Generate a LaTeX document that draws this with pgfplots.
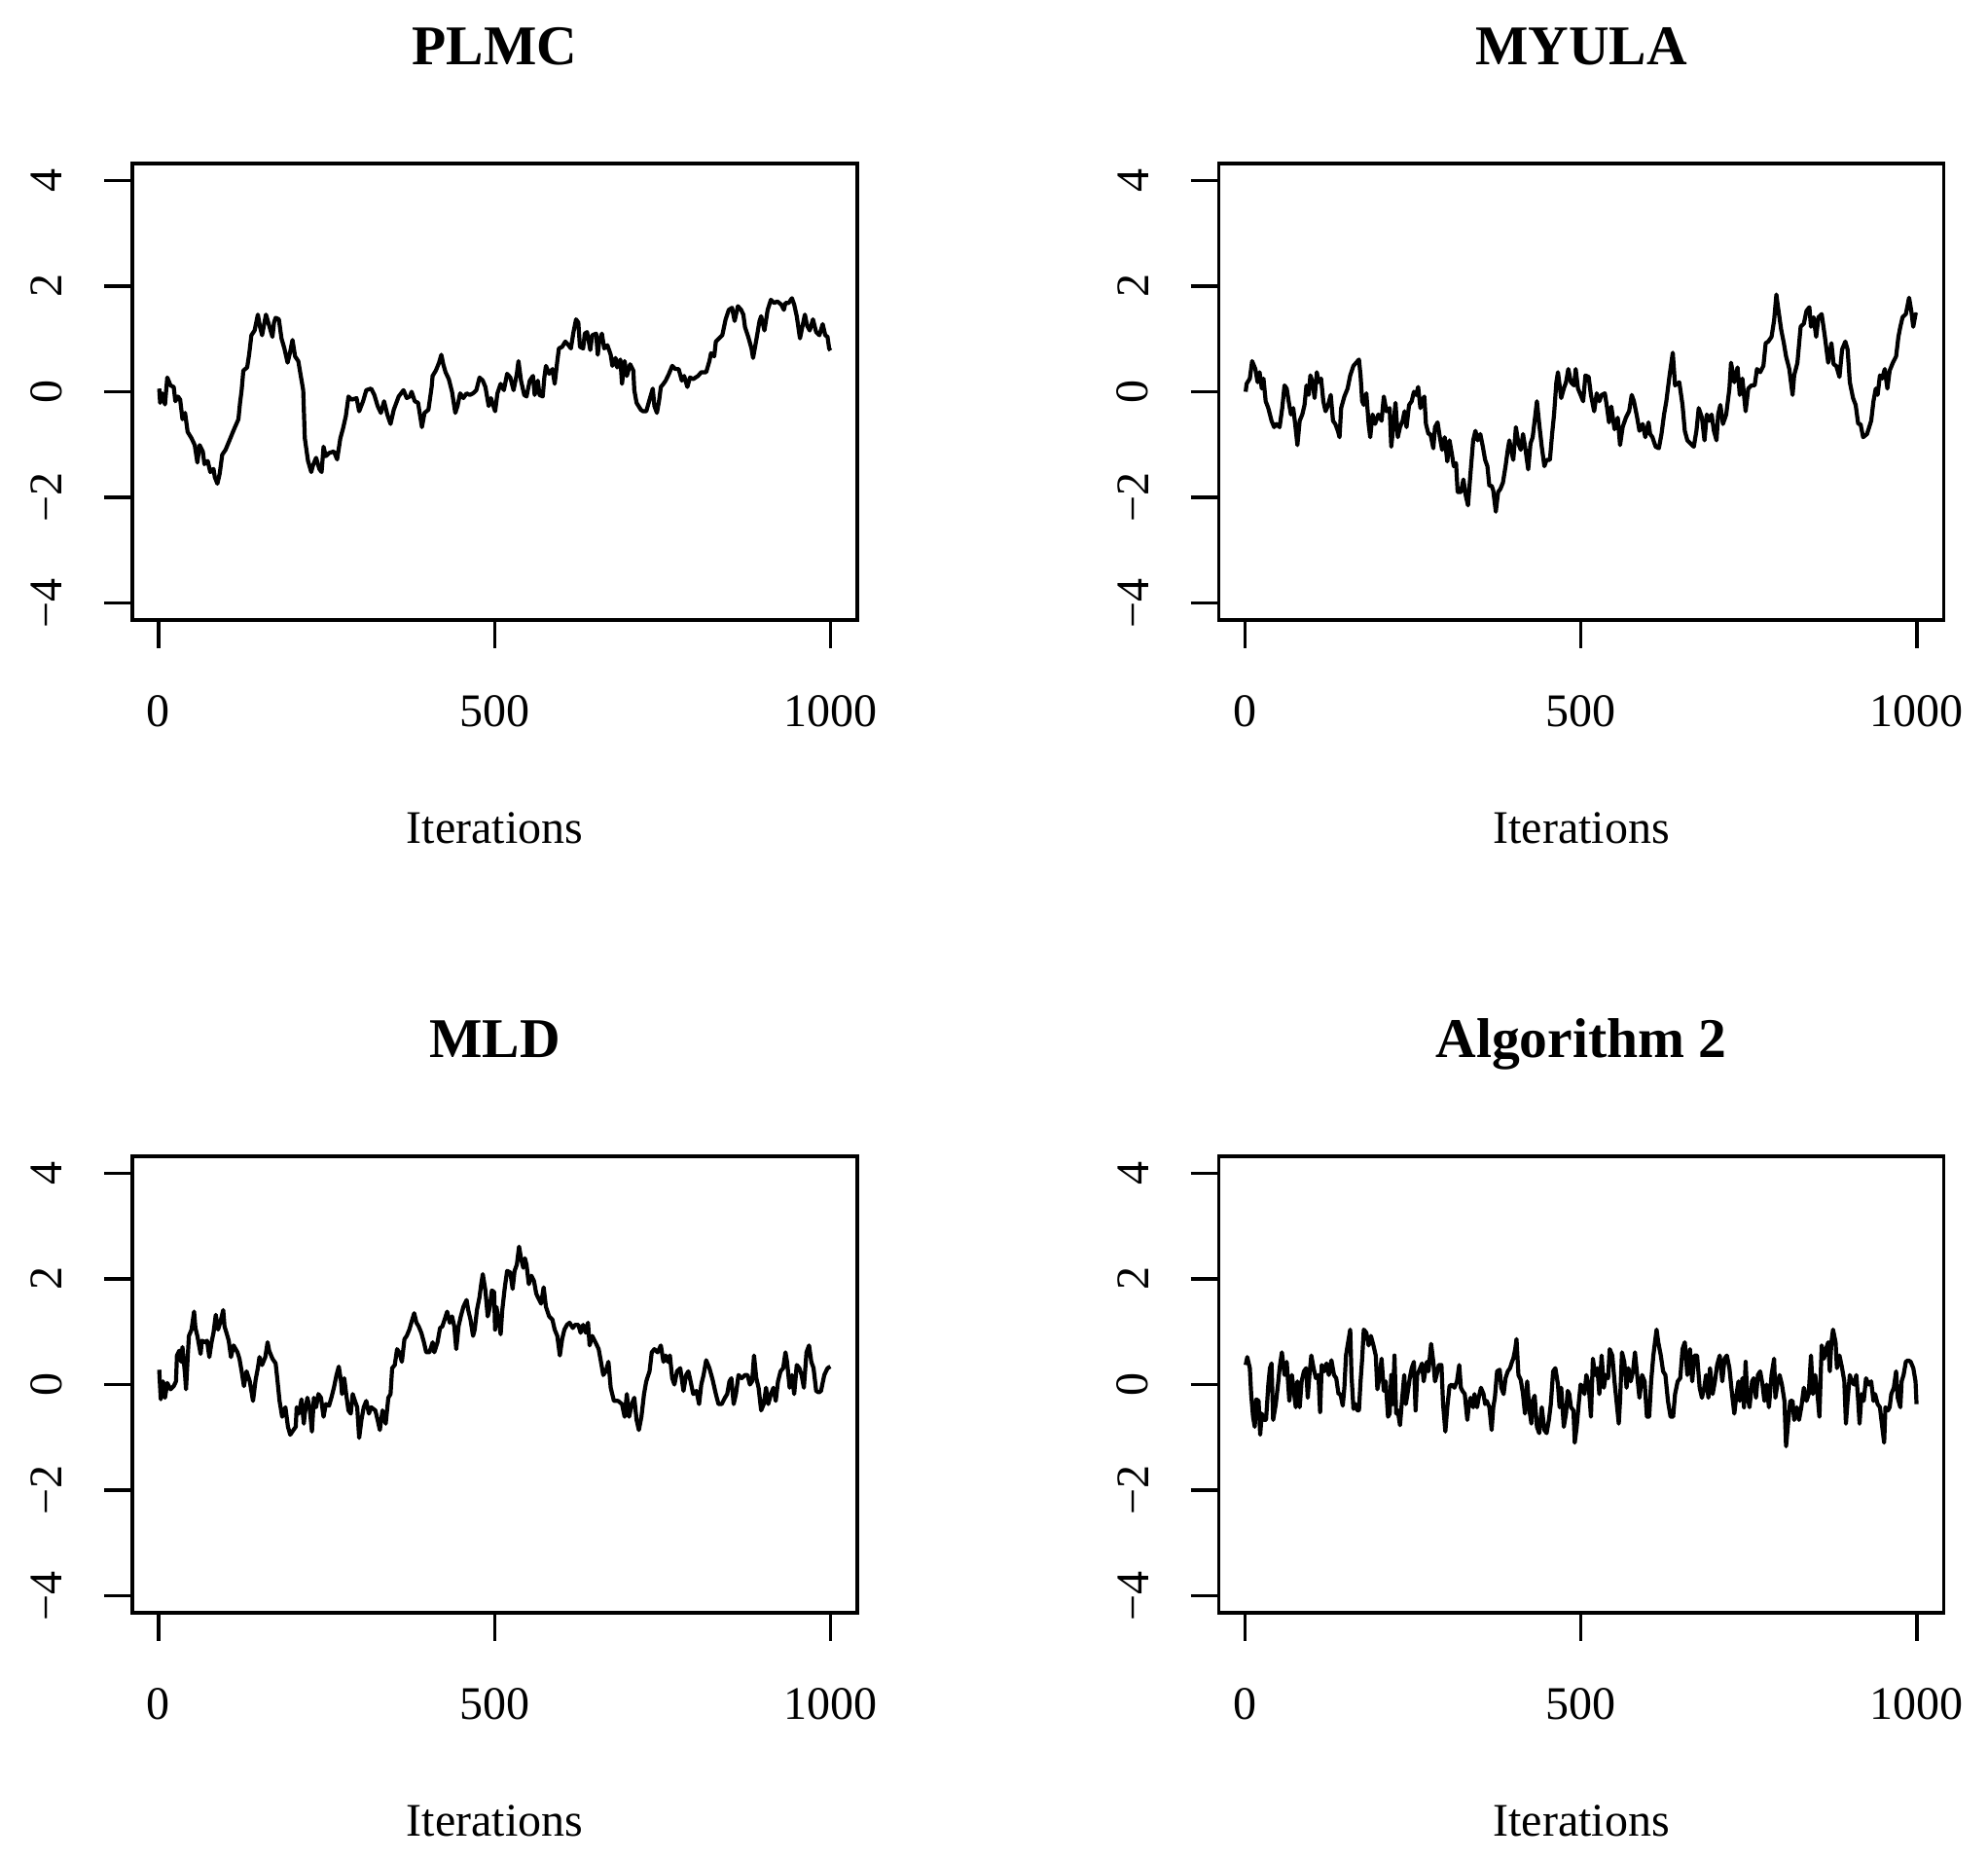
\documentclass[border=0pt]{standalone}
\usepackage{fontspec}
\setmainfont{Liberation Serif}
\usepackage{pgfplots}
\pgfplotsset{compat=1.18}
\pgfplotsset{
 trace/.style={
  scale only axis, width=186.25pt, height=117.25pt,
  anchor=south west,
  xmin=-39, xmax=1040, ymin=-4.32, ymax=4.32,
  axis line style={line width=0.8pt},
  tick align=outside, major tick length=7.2pt,
  every tick/.style={line width=0.8pt, black},
  xtick={0,500,1000}, ytick={-4,-2,0,2,4},
  xticklabels={0,500,1000}, yticklabels={−4,−2,0,2,4},
  xtick pos=bottom, ytick pos=left,
  tick label style={font=\fontsize{12pt}{14pt}\selectfont, inner sep=0pt},
  yticklabel style={rotate=90, anchor=south},
  xticklabel style={anchor=north},
  xticklabel shift=11.9pt, yticklabel shift=10.7pt,
  xlabel={Iterations},
  xlabel style={at={(axis description cs:0.5,0)}, anchor=base, yshift=-57.4pt, inner sep=0pt, font=\fontsize{12pt}{14pt}\selectfont},
  title style={at={(axis description cs:0.5,1)}, anchor=base, yshift=19.4pt, inner sep=0pt, font=\bfseries\fontsize{14.4pt}{17pt}\selectfont},
 },
 tr/.style={black, line width=1.05pt, line join=round, mark=none},
}
\begin{document}
\begin{tikzpicture}
\path[use as bounding box] (0pt,0pt) rectangle (510.75pt,477.5pt);
% PLMC
\begin{axis}[trace, at={(34pt,318.25pt)}, title={PLMC}]
\addplot[tr] coordinates {
(1,0.06)(2.4,-0.21)(5.7,-0.03)(9.6,-0.24)(13,0.27)(17.8,0.12)(22.6,0.09)(25,-0.18)(28.9,-0.09)(32.2,-0.15)
(35.6,-0.52)(39.5,-0.40)(43.3,-0.76)(49.1,-0.88)(53.9,-1.01)(57.8,-1.34)(61.1,-1.01)(65.9,-1.13)(68.3,-1.37)(73.2,-1.31)
(77.0,-1.52)(81.8,-1.46)(83.8,-1.62)(87.6,-1.74)(91.0,-1.55)(94.8,-1.19)(99.7,-1.10)(106.9,-0.88)(111.7,-0.73)(118.9,-0.52)
(121.3,-0.21)(123.7,0.03)(126.2,0.40)(131.9,0.46)(134.8,0.70)(138.2,1.07)(143.0,1.16)(147.8,1.46)(151.2,1.22)(154.1,1.07)
(159.9,1.46)(164.7,1.25)(169.5,1.04)(171.9,1.31)(174.3,1.40)(179.1,1.37)(183.0,1.01)(187.3,0.82)(192.1,0.55)(196.0,0.76)
(199.4,0.98)(203.2,0.67)(208.0,0.58)(215.3,0.03)(217.7,-0.88)(222.5,-1.31)(227.3,-1.52)(229.7,-1.40)(234.5,-1.25)(239.3,-1.46)
(242.7,-1.52)(245.6,-1.04)(248.9,-1.22)(253.8,-1.16)(261.0,-1.13)(265.8,-1.28)(270.6,-0.88)(274.5,-0.70)(278.8,-0.46)(282.7,-0.09)
(287.5,-0.15)(294.7,-0.12)(298.6,-0.37)(304.4,-0.18)(309.2,0.03)(316.4,0.06)(321.2,-0.06)(326.1,-0.27)(330.9,-0.40)(335.7,-0.18)
(340.5,-0.43)(345.3,-0.61)(350.1,-0.34)(357.4,-0.09)(364.6,0.03)(369.4,-0.12)(374.2,-0.09)(376.6,0.00)(381.4,-0.18)(386.3,-0.21)
(392.0,-0.67)(395.9,-0.40)(401.7,-0.34)(406.5,0.09)(407.9,0.30)(412.7,0.40)(417.5,0.55)(420.9,0.70)(423.8,0.52)(427.2,0.37)
(432.0,0.24)(436.8,0.00)(441.7,-0.40)(445.0,-0.27)(448.9,-0.03)(453.7,-0.12)(458.5,-0.03)(463.3,-0.06)(468.1,-0.03)(473.0,0.03)
(477.8,0.27)(482.6,0.21)(486.5,0.09)(491.4,-0.27)(494.7,-0.12)(501.0,-0.37)(504.4,-0.03)(509.2,0.15)(514.0,0.03)(518.8,0.34)
(523.6,0.27)(528.4,0.03)(533.3,0.34)(535.7,0.58)(539.5,0.21)(544.3,-0.06)(547.7,-0.09)(552.5,0.21)(557.3,0.30)(559.8,-0.06)
(564.6,0.21)(567.0,-0.06)(571.8,-0.09)(574.2,0.27)(576.6,0.49)(581.4,0.34)(586.3,0.43)(589.6,0.15)(593.5,0.58)(595.9,0.82)
(600.7,0.85)(605.5,0.95)(610.3,0.88)(613.7,0.82)(617.6,1.13)(621.4,1.37)(624.8,1.31)(627.2,0.85)(632.0,0.82)(634.4,1.10)
(637.8,1.13)(642.6,0.79)(645.5,1.07)(651.3,1.10)(653.7,0.70)(656.1,0.98)(659.9,1.10)(663.3,0.82)(668.1,0.88)(673.0,0.70)
(675.4,0.49)(680.2,0.64)(682.6,0.46)(687.4,0.61)(689.8,0.15)(693.7,0.58)(697.0,0.30)(701.9,0.52)(706.7,0.40)(708.1,0.03)
(711.5,-0.21)(717.8,-0.34)(721.1,-0.37)(725.9,-0.37)(730.8,-0.15)(735.6,0.06)(738.0,-0.27)(741.8,-0.40)(745.2,-0.15)(747.6,0.09)
(751.5,0.15)(754.8,0.21)(759.7,0.34)(764.5,0.49)(769.3,0.43)(774.1,0.43)(778.9,0.21)(782.3,0.30)(787.1,0.09)(791.0,0.27)
(795.8,0.24)(803.0,0.30)(807.8,0.37)(815.1,0.37)(819.9,0.58)(822.3,0.73)(827.1,0.67)(829.5,0.95)(834.3,1.01)(839.1,1.07)
(844.0,1.37)(848.8,1.55)(853.6,1.59)(857.4,1.34)(862.3,1.62)(867.1,1.55)(870.4,1.46)(872.9,1.22)(877.7,1.04)(882.5,0.82)
(884.9,0.64)(889.7,0.98)(894.5,1.34)(896.9,1.43)(901.8,1.16)(906.6,1.55)(911.4,1.74)(916.2,1.68)(921.0,1.71)(926.8,1.65)
(930.7,1.55)(933.1,1.68)(937.9,1.68)(942.7,1.77)(946.1,1.65)(949.9,1.43)(954.7,1.01)(957.1,1.16)(962.0,1.46)(965.3,1.25)
(969.2,1.16)(974.0,1.37)(978.8,1.13)(983.6,1.07)(988.5,1.28)(992.3,1.07)(995.7,1.04)(998.1,0.82)(1000,0.78)
};
\end{axis}
% MYULA
\begin{axis}[trace, at={(313.125pt,318.25pt)}, title={MYULA}]
\addplot[tr] coordinates {
(1,0.00)(2.4,0.15)(7.2,0.25)(10.6,0.58)(15.4,0.43)(18.8,0.18)(21.7,0.37)(25.0,0.06)(27.5,0.25)(30.8,-0.18)
(34.7,-0.31)(39.5,-0.55)(43.4,-0.67)(46.7,-0.61)(51.5,-0.67)(55.4,-0.31)(58.8,0.12)(62.1,0.06)(65.0,-0.18)(68.4,-0.43)
(71.8,-0.31)(74.7,-0.61)(78.0,-1.01)(81.4,-0.55)(85.3,-0.43)(88.6,-0.25)(91.5,0.12)(94.9,-0.06)(97.3,0.31)(100.7,0.18)
(103.6,-0.12)(106.9,0.37)(109.3,0.18)(113.2,0.25)(116.6,-0.18)(119.9,-0.37)(123.8,-0.25)(127.6,-0.06)(131.0,-0.55)(134.4,-0.61)
(138.2,-0.74)(140.7,-0.86)(143.1,-0.31)(147.9,-0.09)(152.7,0.06)(156.6,0.31)(161.4,0.49)(169.6,0.61)(172.0,0.31)(174.4,-0.18)
(176.8,-0.25)(180.6,-0.03)(184.0,-0.61)(186.4,-0.86)(189.8,-0.43)(193.6,-0.61)(198.5,-0.43)(203.3,-0.55)(206.6,-0.09)(210.5,-0.37)
(215.3,-0.31)(217.7,-1.04)(221.1,-0.61)(224.0,-0.21)(227.4,-0.86)(230.7,-0.67)(234.6,-0.55)(237.5,-0.37)(240.4,-0.67)(244.2,-0.25)
(248.1,-0.18)(251.4,0.00)(254.8,-0.06)(257.7,0.09)(261.1,-0.31)(263.5,-0.18)(266.9,-0.09)(269.3,-0.61)(273.1,-0.80)(276.0,-0.80)
(280.3,-1.07)(282.8,-0.67)(286.6,-0.58)(290.0,-0.86)(293.4,-1.10)(297.2,-0.86)(301.1,-1.32)(304.4,-0.92)(307.8,-1.17)(310.7,-1.41)
(314.1,-1.35)(316.5,-1.90)(321.3,-1.90)(325.1,-1.66)(328.5,-1.96)(331.9,-2.15)(335.7,-1.53)(339.6,-0.92)(343.0,-0.74)(346.3,-0.92)
(350.2,-0.80)(354.0,-1.04)(357.4,-1.29)(360.8,-1.41)(363.7,-1.78)(367.1,-1.78)(369.5,-1.87)(373.3,-2.27)(376.7,-1.90)(380.1,-1.84)
(383.9,-1.72)(387.8,-1.41)(391.1,-1.10)(393.5,-0.92)(396.0,-1.10)(399.3,-1.29)(403.2,-0.67)(407.0,-0.98)(410.4,-1.10)(413.8,-0.80)
(417.6,-1.10)(421.5,-1.47)(424.9,-0.98)(428.2,-0.86)(431.1,-0.55)(434.5,-0.18)(437.9,-0.61)(441.7,-1.04)(445.6,-1.41)(448.9,-1.29)
(453.8,-1.29)(457.1,-0.80)(460.0,-0.43)(463.4,0.18)(465.8,0.37)(470.6,-0.12)(474.5,0.06)(477.8,0.18)(481.2,0.43)(485.1,0.18)
(489.8,0.12)(492.2,0.43)(495.6,0.06)(499.5,-0.06)(503.3,-0.18)(506.7,0.31)(511.5,0.28)(514.9,-0.06)(519.7,-0.37)(523.5,-0.03)
(527.4,-0.18)(530.8,-0.06)(535.6,-0.03)(539.0,-0.31)(541.8,-0.58)(545.2,-0.28)(550.0,-0.71)(554.8,-0.49)(558.2,-1.01)(562.1,-0.67)
(566.9,-0.49)(571.7,-0.37)(575.6,-0.06)(578.9,-0.18)(583.7,-0.49)(587.1,-0.74)(591.9,-0.61)(595.8,-0.86)(600.6,-0.58)(603.0,-0.80)
(606.4,-0.86)(611.2,-1.04)(616.0,-1.07)(619.9,-0.80)(623.7,-0.43)(627.1,-0.18)(631.9,0.31)(636.7,0.74)(640.1,0.12)(646.4,0.18)
(651.2,-0.25)(654.6,-0.74)(658.4,-0.92)(663.2,-0.98)(668.0,-1.04)(671.9,-0.74)(675.3,-0.31)(680.1,-0.49)(683.9,-0.92)(687.3,-0.43)
(691.2,-0.55)(694.5,-0.43)(697.9,-0.74)(701.8,-0.92)(704.2,-0.43)(707.5,-0.25)(711.4,-0.61)(716.2,-0.43)(721.0,0.06)(723.4,0.55)
(728.3,0.18)(733.1,0.46)(736.4,-0.06)(740.3,0.25)(745.1,-0.37)(749.0,0.06)(753.8,0.12)(758.6,0.12)(762.0,0.43)(766.8,0.37)
(771.6,0.49)(775.0,0.92)(778.8,0.95)(783.7,1.04)(787.5,1.35)(790.9,1.84)(793.3,1.60)(798.1,1.17)(802.0,0.92)(805.3,0.67)
(810.1,0.43)(815.0,-0.06)(817.4,0.31)(822.2,0.55)(827.0,1.23)(831.8,1.29)(835.7,1.53)(840.0,1.60)(842.4,1.23)(846.3,1.41)
(850.1,1.04)(853.5,1.41)(858.3,1.47)(863.1,1.04)(868.0,0.55)(872.8,0.92)(876.1,0.52)(880.0,0.49)(884.8,0.28)(888.7,0.80)
(893.5,0.95)(896.9,0.80)(900.2,0.18)(905.0,-0.12)(908.9,-0.25)(912.7,-0.61)(916.1,-0.61)(920.0,-0.86)(925.8,-0.80)(932.0,-0.55)
(935.4,-0.18)(938.8,0.06)(941.6,-0.06)(945.0,0.31)(948.4,0.25)(952.2,0.43)(956.1,0.06)(959.5,0.40)(964.3,0.55)(969.1,0.67)
(972.5,1.04)(975.4,1.23)(978.7,1.41)(983.6,1.47)(988.4,1.78)(991.7,1.53)(994.6,1.23)(998.0,1.47)(1000,1.45)
};
\end{axis}
% MLD
\begin{axis}[trace, at={(34pt,63.25pt)}, title={MLD}]
\addplot[tr] coordinates {
(1,0.28)(3.3,-0.28)(6.7,0.06)(9.6,-0.25)(13.0,0.03)(17.8,-0.09)(22.6,-0.03)(26.0,0.06)(27.4,0.55)(30.8,0.64)
(33.7,0.43)(35.6,0.71)(39.5,0.18)(40.9,-0.09)(43.3,0.49)(45.2,0.92)(49.1,1.04)(52.9,1.38)(54.9,1.07)(57.8,0.92)
(62.6,0.58)(64.5,0.83)(69.3,0.80)(72.2,0.83)(75.6,0.52)(78.9,0.80)(81.8,0.98)(85.2,1.32)(88.6,1.04)(92.4,1.20)
(96.3,1.41)(98.2,1.10)(101.1,0.98)(104.5,0.83)(107.8,0.52)(111.7,0.74)(117.5,0.61)(120.4,0.49)(123.7,0.25)(127.1,-0.03)
(131.0,0.25)(135.8,0.06)(140.6,-0.31)(144.5,0.09)(147.8,0.31)(150.2,0.52)(154.1,0.37)(158.9,0.52)(162.3,0.80)(164.7,0.64)
(169.5,0.49)(174.3,0.40)(176.7,0.12)(180.1,-0.31)(184.0,-0.61)(188.8,-0.43)(192.6,-0.80)(196.0,-0.95)(200.8,-0.86)(204.2,-0.80)
(205.6,-0.43)(209.0,-0.55)(212.8,-0.28)(216.2,-0.74)(217.7,-0.55)(221.5,-0.25)(224.9,-0.43)(228.3,-0.89)(231.2,-0.25)(234.5,-0.43)
(237.9,-0.18)(241.8,-0.25)(245.6,-0.61)(249.0,-0.37)(253.8,-0.40)(257.2,-0.25)(261.0,-0.06)(264.9,0.18)(268.3,0.34)(271.6,0.06)
(273.1,-0.18)(276.4,0.12)(279.3,-0.18)(282.7,-0.49)(286.1,-0.55)(289.0,-0.18)(292.3,-0.31)(295.7,-0.43)(298.6,-1.01)(302.0,-0.67)
(305.4,-0.43)(309.2,-0.31)(313.1,-0.55)(316.4,-0.43)(322.7,-0.49)(326.1,-0.67)(329.4,-0.86)(333.3,-0.49)(338.1,-0.74)(342.0,-0.25)
(345.3,-0.18)(347.7,0.31)(351.6,0.37)(355.0,0.67)(358.3,0.61)(362.2,0.43)(366.0,0.86)(369.4,0.92)(373.3,1.04)(377.6,1.23)
(380.5,1.35)(383.9,1.17)(387.2,1.10)(391.1,0.98)(395.0,0.80)(398.4,0.61)(403.2,0.61)(408.0,0.80)(410.4,0.61)(415.2,0.80)
(419.0,1.07)(422.4,1.10)(425.8,1.23)(429.6,1.38)(433.5,1.17)(436.9,1.29)(440.2,1.10)(443.1,0.67)(446.5,1.10)(449.9,1.29)
(453.7,1.47)(458.5,1.60)(460.9,1.41)(464.3,1.23)(468.1,0.92)(470.6,1.04)(473.9,1.41)(477.8,1.66)(480.2,1.90)(482.6,2.09)
(486.5,1.78)(489.9,1.29)(493.2,1.47)(496.1,1.78)(499.5,1.75)(500.9,1.04)(502.9,1.47)(506.8,1.17)(509.2,0.95)(511.6,1.41)
(515.4,1.84)(518.8,2.15)(523.6,2.12)(527.0,1.81)(529.9,2.15)(533.3,2.27)(536.6,2.61)(539.5,2.39)(542.9,2.21)(545.3,2.39)
(547.7,2.27)(551.1,1.90)(554.9,2.06)(558.8,1.96)(562.2,1.72)(565.5,1.63)(569.4,1.53)(573.2,1.84)(576.6,1.47)(581.4,1.29)
(586.2,1.23)(589.6,1.04)(593.5,0.92)(597.3,0.55)(600.7,0.86)(604.1,1.04)(607.9,1.13)(611.8,1.17)(616.6,1.07)(620.0,1.13)
(624.8,1.13)(628.2,0.98)(632.0,1.13)(635.9,0.98)(639.2,1.17)(641.6,0.74)(645.5,0.92)(650.3,0.80)(655.1,0.67)(658.5,0.43)
(661.9,0.18)(665.7,0.25)(669.6,0.43)(673.0,-0.06)(677.8,-0.31)(684.0,-0.31)(689.8,-0.37)(693.7,-0.61)(697.0,-0.18)(700.4,-0.61)
(704.3,-0.37)(708.1,-0.25)(711.5,-0.67)(714.9,-0.86)(718.7,-0.61)(722.6,-0.18)(725.9,0.06)(730.8,0.25)(734.1,0.61)(738.0,0.67)
(742.8,0.61)(747.6,0.74)(751.5,0.43)(754.8,0.55)(758.2,0.43)(761.1,0.55)(764.5,0.12)(767.8,0.00)(771.7,0.25)(776.5,0.31)
(781.3,-0.12)(785.2,0.18)(788.6,0.25)(791.9,0.06)(795.8,-0.18)(800.6,-0.12)(804.5,-0.37)(807.8,0.00)(811.2,0.18)(815.1,0.46)
(819.9,0.31)(824.7,0.09)(829.5,-0.18)(833.4,-0.37)(838.2,-0.37)(843.0,-0.25)(846.4,-0.18)(849.7,0.06)(852.6,0.12)(856.0,-0.37)
(859.4,-0.18)(863.2,0.18)(868.0,0.12)(872.9,0.18)(876.7,0.18)(880.1,0.00)(883.5,0.06)(886.3,0.55)(889.7,0.12)(893.1,-0.06)
(896.9,-0.49)(900.8,-0.37)(904.2,-0.06)(907.5,-0.37)(911.4,-0.18)(915.2,-0.06)(918.6,-0.31)(922.0,0.06)(925.8,0.25)(929.7,0.31)
(933.1,0.61)(935.5,0.43)(939.3,-0.06)(942.7,0.18)(946.1,-0.18)(949.9,0.37)(953.8,0.31)(957.1,0.18)(960.5,-0.06)(964.4,0.61)
(968.2,0.74)(971.6,0.43)(974.9,0.31)(978.8,-0.12)(982.7,-0.15)(986.0,-0.12)(990.9,0.18)(995.7,0.31)(1000,0.34)
};
\end{axis}
% Algorithm 2
\begin{axis}[trace, at={(313.125pt,63.25pt)}, title={Algorithm 2}]
\addplot[tr] coordinates {
(1.0,0.37)(3.4,0.52)(7.2,0.31)(9.2,-0.18)(12.0,-0.61)(14.5,-0.80)(16.9,-0.28)(20.2,-0.31)(22.6,-0.95)(25.0,-0.55)
(28.4,-0.67)(31.3,-0.67)(34.7,0.00)(37.1,0.31)(39.5,0.40)(41.9,-0.67)(45.8,-0.37)(49.1,0.00)(51.5,0.31)(54.9,0.61)
(58.8,0.18)(62.1,0.43)(66.0,-0.31)(69.8,0.18)(73.2,-0.18)(75.6,-0.43)(78.0,0.06)(81.4,-0.43)(84.3,0.06)(87.7,0.25)
(91.0,0.31)(93.4,-0.25)(95.9,0.18)(98.7,0.55)(102.1,0.31)(105.5,0.12)(109.3,0.18)(111.8,-0.52)(114.2,0.37)(118.0,0.25)
(121.4,0.40)(124.8,0.18)(128.6,0.46)(132.5,0.18)(135.8,0.12)(139.2,-0.18)(142.1,-0.18)(145.5,-0.40)(147.9,-0.06)(150.3,0.55)
(152.7,0.74)(156.6,1.04)(158.5,0.18)(161.4,-0.46)(164.7,-0.37)(167.1,-0.49)(169.6,-0.49)(172.0,0.06)(174.4,0.49)(176.8,1.04)
(180.6,0.98)(184.0,0.74)(187.4,0.92)(191.2,0.74)(194.6,0.55)(197.0,-0.09)(199.9,0.12)(203.3,0.49)(206.6,-0.12)(209.5,0.06)
(212.9,-0.61)(215.3,-0.55)(217.7,0.18)(220.1,-0.37)(222.5,0.55)(225.0,-0.55)(227.4,-0.49)(230.7,-0.77)(233.6,-0.31)(237.0,0.18)
(239.4,-0.37)(241.8,-0.18)(245.2,0.12)(248.1,0.31)(251.4,0.43)(253.9,-0.49)(256.3,0.18)(258.7,0.25)(263.5,0.40)(265.9,0.06)
(268.3,0.25)(270.7,0.43)(273.1,0.25)(277.0,0.77)(280.3,0.43)(282.8,0.06)(285.2,0.18)(288.5,0.37)(292.4,0.37)(294.8,-0.37)
(298.2,-0.89)(301.1,-0.43)(304.4,-0.03)(307.8,0.00)(311.7,-0.06)(315.5,0.06)(318.9,0.37)(321.3,-0.06)(323.7,-0.12)(327.1,-0.18)
(330.9,-0.67)(333.3,-0.37)(335.7,-0.25)(339.6,-0.43)(341.5,-0.18)(345.4,-0.43)(347.8,-0.25)(351.2,-0.06)(355.0,-0.18)(357.4,-0.37)
(359.8,-0.31)(363.7,-0.43)(367.1,-0.86)(369.5,-0.43)(371.9,-0.25)(375.2,0.25)(379.1,0.28)(381.5,-0.06)(384.9,-0.18)(387.8,0.12)
(391.1,0.25)(394.5,0.31)(397.4,0.43)(399.3,0.49)(402.2,0.67)(404.1,0.86)(407.0,0.18)(410.4,0.09)(413.8,-0.18)(416.7,-0.55)
(420.0,0.06)(423.4,-0.49)(426.3,-0.74)(428.2,-0.31)(431.1,-0.21)(434.5,-0.80)(437.9,-0.92)(441.7,-0.43)(445.6,-0.86)(448.9,-0.92)
(452.3,-0.67)(455.2,-0.37)(458.6,0.25)(461.9,0.31)(465.8,0.00)(468.2,-0.43)(470.6,-0.06)(474.5,-0.80)(477.8,-0.55)(480.3,-0.12)
(482.7,-0.18)(485.1,-0.43)(488.9,-0.49)(490.8,-1.10)(493.7,-0.80)(497.1,-0.31)(499.5,0.00)(503.3,-0.06)(505.2,-0.18)(508.1,0.18)
(511.5,0.00)(514.9,-0.61)(517.8,0.49)(521.1,0.18)(524.5,0.31)(527.4,-0.18)(530.8,0.55)(534.1,-0.06)(537.0,0.18)(540.4,0.12)
(542.8,0.67)(546.7,0.55)(550.0,0.06)(553.4,-0.37)(556.3,-0.74)(558.2,-0.31)(561.1,0.61)(564.5,0.43)(567.9,-0.06)(570.7,0.31)
(574.1,0.06)(577.5,0.25)(580.4,0.61)(583.7,0.18)(587.1,-0.25)(591.0,0.18)(594.8,0.06)(598.2,-0.61)(601.6,-0.61)(604.5,0.06)
(607.8,0.55)(610.2,0.80)(612.6,1.04)(615.1,0.80)(618.9,0.55)(622.3,0.25)(625.7,0.18)(629.5,-0.31)(633.4,-0.61)(637.2,-0.61)
(640.1,-0.18)(644.0,0.06)(647.8,0.12)(651.2,0.67)(654.6,0.80)(658.4,0.18)(662.3,0.67)(665.6,0.06)(669.0,0.55)(672.9,0.55)
(676.7,-0.06)(680.1,-0.25)(683.5,-0.06)(686.3,0.18)(689.7,-0.25)(692.1,0.31)(696.0,-0.18)(699.4,0.06)(702.7,0.37)(706.6,0.55)
(710.4,0.06)(713.8,0.49)(717.2,0.55)(721.0,0.31)(724.9,-0.18)(728.3,-0.55)(731.6,-0.18)(734.5,0.06)(736.4,-0.31)(740.3,0.12)
(742.7,-0.43)(745.1,0.43)(747.5,-0.18)(750.9,-0.43)(754.7,0.06)(757.2,0.12)(760.5,-0.25)(763.4,0.18)(766.8,0.25)(770.2,0.00)
(773.1,-0.31)(776.4,0.00)(779.8,-0.43)(783.7,0.18)(787.5,0.49)(789.4,-0.25)(792.3,0.00)(795.7,0.18)(799.1,0.00)(802.9,-0.31)
(805.3,-1.17)(808.7,-0.67)(811.6,-0.31)(815.0,-0.31)(817.4,-0.67)(821.2,-0.43)(824.6,-0.67)(828.0,-0.43)(831.8,-0.06)(835.7,-0.31)
(839.0,-0.18)(842.4,0.55)(845.3,-0.18)(848.7,0.18)(852.1,-0.18)(854.9,-0.61)(858.3,0.74)(861.7,0.49)(864.6,0.67)(868.0,0.80)
(870.4,0.25)(872.8,0.80)(875.2,1.04)(879.0,0.80)(881.0,0.31)(884.8,0.55)(888.7,0.31)(892.0,0.06)(894.4,-0.74)(896.8,-0.31)
(900.2,0.18)(903.1,0.06)(906.5,0.00)(909.9,0.18)(912.7,-0.31)(914.7,-0.74)(917.6,-0.18)(920.9,-0.31)(924.3,0.12)(928.2,0.00)
(932.0,0.06)(935.4,-0.31)(937.8,-0.18)(941.6,-0.37)(945.0,-0.43)(948.4,-0.80)(951.3,-1.10)(953.2,-0.43)(957.1,-0.49)(959.5,-0.43)
(961.9,-0.18)(965.7,-0.06)(969.1,0.25)(971.5,-0.25)(975.4,-0.43)(977.3,0.06)(980.2,0.18)(983.6,0.43)(987.0,0.46)(990.8,0.43)
(994.7,0.31)(998.0,0.06)(999.5,-0.37)
};
\end{axis}
\end{tikzpicture}
\end{document}
